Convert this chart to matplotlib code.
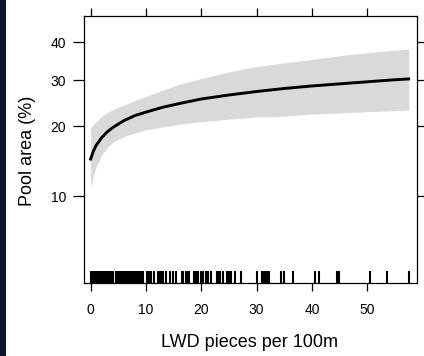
import numpy as np
import matplotlib
matplotlib.use("Agg")
import matplotlib.pyplot as plt
from matplotlib.patches import Rectangle
import matplotlib.transforms as mtransforms

plt.rcParams['font.family'] = ['Liberation Sans', 'DejaVu Sans']

# ---- data ----
x_vals = [0, 0.5, 1, 2, 3, 4, 6, 8, 10, 13, 16, 20, 25, 30, 35, 40, 45, 50, 55, 57.5]
fit_vals = [14.6, 15.8, 16.7, 18.0, 19.0, 19.8, 21.1, 22.1, 22.8, 23.8, 24.6, 25.6,
            26.5, 27.3, 28.0, 28.6, 29.1, 29.6, 30.1, 30.3]
lower_vals = [11.0, 12.4, 13.5, 15.2, 16.4, 17.2, 18.2, 18.8, 19.4, 19.9, 20.4, 20.9,
              21.4, 21.8, 22.0, 22.4, 22.6, 22.9, 23.1, 23.2]
upper_vals = [19.7, 20.3, 20.9, 21.9, 22.7, 23.3, 24.3, 25.2, 26.2, 27.6, 29.0, 30.4,
              32.1, 33.4, 34.4, 35.3, 36.3, 37.1, 37.8, 38.1]

rug_vals = [0.0, 0.15, 0.3, 0.45, 0.6, 0.75, 0.9, 1.05, 1.2, 1.35, 1.5, 1.65, 1.8, 1.95,
            2.1, 2.25, 2.4, 2.55, 2.7, 2.85, 3.0, 3.15, 3.3, 3.45, 3.6, 3.75, 3.9, 4.05,
            4.5, 4.65, 4.8, 4.95, 5.1, 5.25, 5.4, 5.55, 5.7, 5.85, 6.0, 6.15, 6.3, 6.45,
            6.6, 6.75, 6.9, 7.05, 7.2, 7.35, 7.5, 7.65, 7.8, 7.95, 8.1, 8.25, 8.4, 8.55,
            8.7, 8.85, 9.0, 9.15, 9.3, 9.45,
            10.1, 10.5, 11.0, 11.4, 12.2, 12.35, 12.5, 12.65, 12.8, 12.95, 13.1,
            13.7, 14.3, 14.9, 15.4, 16.5, 16.7, 17.2, 17.5, 17.8, 18.6, 19.0, 19.5,
            19.9, 20.4, 20.8, 21.3, 21.7, 22.8, 23.1, 23.4, 23.9,
            24.6, 24.75, 24.9, 25.05, 25.2, 25.35, 26.1, 27.1, 30.0,
            30.9, 31.05, 31.2, 31.35, 31.5, 31.65, 31.8, 31.95, 32.1, 32.25,
            34.5, 35.0, 36.5, 40.6, 41.2, 44.5, 44.9, 50.5, 53.5, 57.6]

x_ticks = [0, 10, 20, 30, 40, 50]
y_ticks = [10, 20, 30, 40]


def fwd(p):
    p = np.clip(np.asarray(p, dtype=float) / 100.0, 1e-6, 1 - 1e-6)
    return np.log(p / (1 - p))


def inv(z):
    z = np.asarray(z, dtype=float)
    return 100.0 / (1 + np.exp(-z))


W, H = 424, 356
fig = plt.figure(figsize=(W / 100, H / 100), dpi=100)
fig.patch.set_facecolor('white')
fig.patches.append(Rectangle((0, 0), 6 / W, 1, transform=fig.transFigure,
                             facecolor='#0b1730', edgecolor='none', zorder=0))

left, right, top, bottom = 84, 416.7, 16, 283
ax = fig.add_axes([left / W, (H - bottom) / H, (right - left) / W, (bottom - top) / H])
ax.set_yscale('function', functions=(fwd, inv))

ax.fill_between(x_vals, lower_vals, upper_vals, color='#d9d9d9', linewidth=0, zorder=1)
ax.plot(x_vals, fit_vals, color='black', linewidth=2.1, zorder=3)

trans = mtransforms.blended_transform_factory(ax.transData, ax.transAxes)
ax.vlines(rug_vals, 0, 12 / 267, transform=trans, color='black', linewidth=1.5, zorder=4)

ax.set_xlim(-1.2, 58.95)
ax.set_ylim(3.88, 47.5)

ax.set_xticks(x_ticks)
ax.set_xticklabels([str(v) for v in x_ticks])
ax.set_yticks(y_ticks)
ax.set_yticklabels([str(v) for v in y_ticks])
ax.yaxis.set_minor_locator(matplotlib.ticker.NullLocator())
ax.xaxis.set_minor_locator(matplotlib.ticker.NullLocator())

ax.tick_params(axis='x', which='major', direction='out', length=5.5, width=0.9,
               labelsize=10, pad=9, colors='black', top=True, labeltop=False)
ax.tick_params(axis='y', which='major', direction='out', length=8.0, width=0.9,
               labelsize=10, pad=5, colors='black', right=True, labelright=False)
for sp in ax.spines.values():
    sp.set_linewidth(0.9)
    sp.set_color('black')

ax.set_xlabel('LWD pieces per 100m', fontsize=13)
ax.set_ylabel('Pool area (%)', fontsize=13)
ax.xaxis.set_label_coords(0.498, -0.221)
ax.xaxis.label.set_verticalalignment('center')
ax.yaxis.set_label_coords(-0.170, 0.494)
ax.yaxis.label.set_verticalalignment('center')

fig.savefig('out.png', dpi=100, facecolor=fig.get_facecolor())
